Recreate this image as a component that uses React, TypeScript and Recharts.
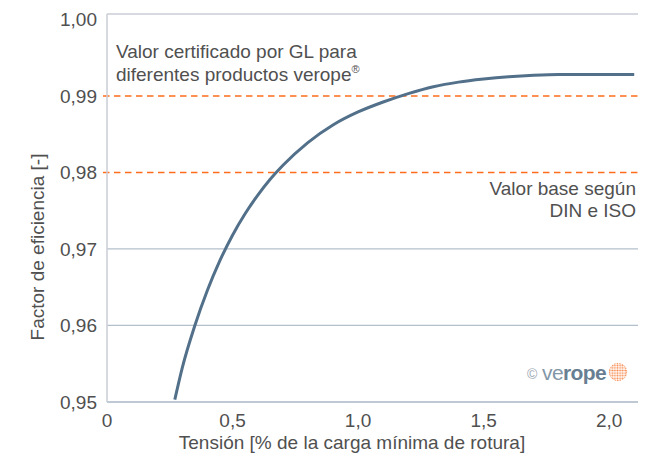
import React from "react";
import {
  LineChart,
  Line,
  XAxis,
  YAxis,
  ReferenceLine,
  Customized,
} from "recharts";

const tensionValues = [0.27, 0.3, 0.35, 0.4, 0.45, 0.5, 0.55, 0.6, 0.65, 0.7, 0.8, 0.9, 1.0, 1.1, 1.2, 1.3, 1.4, 1.5, 1.6, 1.7, 1.8, 1.9, 2.1];
const efficiencyValues = [0.9503, 0.9545, 0.96, 0.9646, 0.9685, 0.9718, 0.9746, 0.977, 0.9791, 0.9809, 0.9839, 0.9862, 0.9879, 0.9892, 0.9903, 0.9912, 0.9918, 0.9922, 0.9925, 0.9927, 0.9928, 0.9928, 0.9928];

const xTicks = [0, 0.5, 1, 1.5, 2];
const yTicks = [0.95, 0.96, 0.97, 0.98, 0.99, 1.0];
const grayGridValues = [0.96, 0.97];
const certifiedValue = 0.99;
const baseValue = 0.98;
const xDomain: [number, number] = [0, 2.115];
const yDomain: [number, number] = [0.95, 1.0007];

const certifiedLines = ["Valor certificado por GL para", "diferentes productos verope"];
const baseLines = ["Valor base según", "DIN e ISO"];
const xTitle = "Tensión [% de la carga mínima de rotura]";
const yTitle = "Factor de eficiencia [-]";

const data = tensionValues.map((x, i) => ({ x, y: efficiencyValues[i] }));

const FONT = "'Liberation Sans', Arial, Helvetica, sans-serif";
const TEXT = "#505050";
const GRID = "#b4bfcc";
const ORANGE = "#ff6c1c";

const fmtY = (v: number) => v.toFixed(2).replace(".", ",");
const fmtX = (v: number) => (v === 0 ? "0" : v.toFixed(1).replace(".", ","));

const CertifiedLabel = (props: any) => {
  const vb = props.viewBox || {};
  const x = (vb.x ?? 0) + 13;
  const y = vb.y ?? 0;
  return (
    <text fontFamily={FONT} fontSize={19} fill={TEXT}>
      <tspan x={x} y={y - 38}>{certifiedLines[0]}</tspan>
      <tspan x={x} y={y - 15}>{certifiedLines[1]}</tspan>
      <tspan fontSize={11} dy={-8}>®</tspan>
    </text>
  );
};

const BaseLabel = (props: any) => {
  const vb = props.viewBox || {};
  const x = (vb.x ?? 0) + (vb.width ?? 0) - 2;
  const y = vb.y ?? 0;
  return (
    <text fontFamily={FONT} fontSize={19} fill={TEXT} textAnchor="end">
      <tspan x={x} y={y + 23}>{baseLines[0]}</tspan>
      <tspan x={x} y={y + 45}>{baseLines[1]}</tspan>
    </text>
  );
};

const Extras = () => (
  <g>
    <text
      x={352}
      y={449}
      textAnchor="middle"
      fontFamily={FONT}
      fontSize={19}
      fill={TEXT}
    >
      {xTitle}
    </text>
    <text
      transform="translate(44,247) rotate(-90)"
      textAnchor="middle"
      fontFamily={FONT}
      fontSize={19}
      fill={TEXT}
    >
      {yTitle}
    </text>
    <defs>
      <pattern id="dots" x="0" y="0" width="2.6" height="2.6" patternUnits="userSpaceOnUse">
        <circle cx="1.3" cy="1.3" r="0.95" fill="#f7874a" />
      </pattern>
    </defs>
    <text x={527} y={379} fontFamily={FONT} fontSize={14} fill="#9aa6b3">
      ©
    </text>
    <text x={542} y={380} fontFamily={FONT} fontSize={21} letterSpacing={-0.6}>
      <tspan fill="#8296a8">ve</tspan>
      <tspan fill="#687f93" fontWeight="bold">rope</tspan>
    </text>
    <circle cx={618} cy={372} r={9} fill="url(#dots)" />
    <circle cx={618} cy={372} r={8.6} fill="none" stroke="#f7874a" strokeWidth={0.8} strokeDasharray="1.2 1.4" />
  </g>
);

export default function App() {
  return (
    <div style={{ position: "absolute", left: 0, top: 0, background: "#fff" }}>
      <LineChart
        width={665}
        height={459}
        data={data}
        margin={{ top: 14, right: 27, bottom: 27, left: 0 }}
      >
        <XAxis
          dataKey="x"
          type="number"
          domain={xDomain}
          ticks={xTicks}
          tickFormatter={fmtX}
          allowDataOverflow
          height={30}
          tickLine={false}
          tickSize={10}
          tickMargin={2}
          axisLine={{ stroke: "#aab7c6", strokeWidth: 1.5 }}
          tick={{ fill: TEXT, fontSize: 19, fontFamily: FONT }}
        />
        <YAxis
          dataKey="y"
          type="number"
          domain={yDomain}
          ticks={yTicks}
          tickFormatter={fmtY}
          allowDataOverflow
          width={107}
          tickLine={false}
          tickSize={8}
          tickMargin={2}
          axisLine={{ stroke: "#c8cdd6", strokeWidth: 1.5 }}
          tick={{ fill: TEXT, fontSize: 19, fontFamily: FONT }}
        />
        <ReferenceLine y={yDomain[1]} stroke="#c8ccd6" strokeWidth={1.5} />
        {grayGridValues.map((v) => (
          <ReferenceLine key={v} y={v} stroke={GRID} strokeWidth={1.3} />
        ))}
        <ReferenceLine
          segment={[{ x: -0.016, y: certifiedValue }, { x: xDomain[1], y: certifiedValue }]}
          ifOverflow="visible"
          stroke={ORANGE}
          strokeWidth={1.5}
          strokeDasharray="6.5 4.5"
          label={<CertifiedLabel />}
        />
        <ReferenceLine
          segment={[{ x: -0.016, y: baseValue }, { x: xDomain[1], y: baseValue }]}
          ifOverflow="visible"
          stroke={ORANGE}
          strokeWidth={1.5}
          strokeDasharray="6.5 4.5"
          label={<BaseLabel />}
        />
        <Line
          type="monotone"
          dataKey="y"
          stroke="#52708a"
          strokeWidth={3}
          dot={false}
          activeDot={false}
          isAnimationActive={false}
        />
        <Customized component={<Extras />} />
      </LineChart>
    </div>
  );
}
